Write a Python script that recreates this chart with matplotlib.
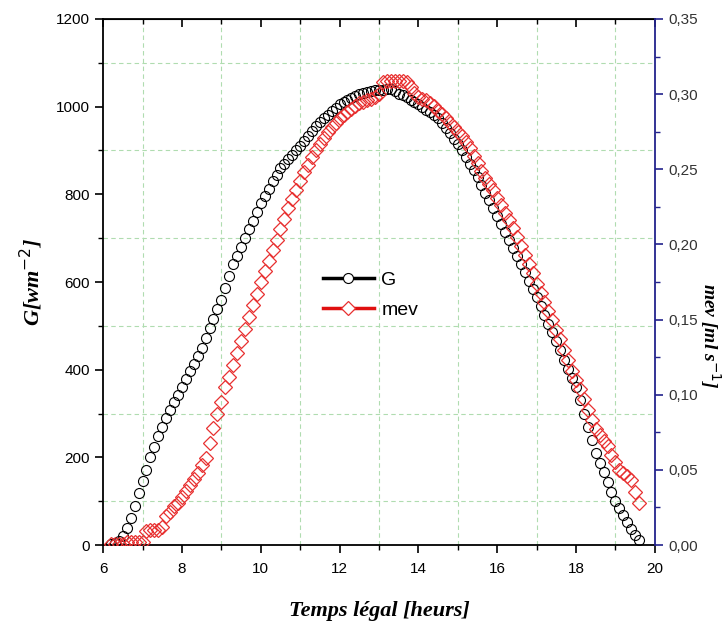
import matplotlib
matplotlib.use("Agg")
import matplotlib.pyplot as plt
import numpy as np
from matplotlib.lines import Line2D
from matplotlib.ticker import MultipleLocator, FuncFormatter

# sampling times (hours)
hours = np.round(np.arange(6.2, 19.61, 0.1), 2)

# global irradiance G [W m-2]
G = [2, 5, 10, 20, 38, 62, 90, 118, 145, 172,
     200, 224, 248, 270, 290, 308, 326, 343, 360, 378,
     396, 414, 432, 450, 472, 494, 516, 538, 560, 587,
     614, 640, 660, 680, 700, 720, 740, 760, 780, 797,
     813, 830, 845, 860, 870, 880, 890, 900, 910, 922,
     933, 944, 955, 965, 973, 981, 989, 997, 1005, 1010,
     1015, 1020, 1025, 1030, 1032, 1034, 1036, 1037, 1038, 1039,
     1040, 1040, 1036, 1030, 1026, 1021, 1016, 1010, 1005, 999,
     993, 987, 981, 975, 963, 951, 939, 927, 915, 900,
     885, 870, 855, 840, 822, 804, 786, 768, 750, 732,
     714, 696, 678, 660, 641, 622, 603, 584, 565, 545,
     525, 505, 485, 465, 444, 423, 402, 381, 360, 330,
     300, 270, 240, 210, 188, 166, 144, 122, 100, 84,
     68, 52, 36, 22, 12]

# evaporated mass flow mev [ml s-1]
mev = [0.001, 0.001, 0.001, 0.001, 0.002, 0.002, 0.002, 0.002, 0.002, 0.009,
       0.010, 0.010, 0.010, 0.012, 0.019, 0.022, 0.026, 0.028, 0.032, 0.036,
       0.040, 0.044, 0.048, 0.053, 0.058, 0.068, 0.078, 0.087, 0.095, 0.105,
       0.112, 0.120, 0.128, 0.136, 0.144, 0.152, 0.160, 0.167, 0.175, 0.182,
       0.189, 0.196, 0.203, 0.210, 0.217, 0.224, 0.230, 0.236, 0.242, 0.248,
       0.253, 0.258, 0.263, 0.267, 0.271, 0.275, 0.278, 0.281, 0.284, 0.286,
       0.288, 0.290, 0.292, 0.294, 0.295, 0.296, 0.297, 0.298, 0.300, 0.308,
       0.309, 0.309, 0.309, 0.309, 0.309, 0.308, 0.305, 0.301, 0.298, 0.297,
       0.296, 0.294, 0.292, 0.289, 0.287, 0.284, 0.281, 0.278, 0.275, 0.272,
       0.268, 0.264, 0.259, 0.254, 0.249, 0.244, 0.240, 0.236, 0.231, 0.226,
       0.221, 0.216, 0.211, 0.205, 0.199, 0.193, 0.187, 0.181, 0.174, 0.168,
       0.162, 0.156, 0.150, 0.143, 0.137, 0.130, 0.123, 0.116, 0.110, 0.104,
       0.097, 0.090, 0.083, 0.077, 0.073, 0.069, 0.066, 0.060, 0.055, 0.050,
       0.048, 0.046, 0.043, 0.035, 0.028]

plt.rcParams['font.family'] = 'Liberation Sans'

fig = plt.figure(figsize=(7.26, 6.33), dpi=100)
ax = fig.add_axes([0.142, 0.139, 0.760, 0.831])
ax2 = ax.twinx()

grid_col = '#b0dcb0'
red = '#e83030'
ax.plot(hours, G, linestyle='none', marker='o', markersize=7.2,
        markerfacecolor='none', markeredgecolor='black', markeredgewidth=0.8, zorder=3)
ax2.plot(hours, mev, linestyle='none', marker='D', markersize=7.2,
         markerfacecolor='none', markeredgecolor=red, markeredgewidth=0.9, zorder=3)

ax.set_xlim(6, 20)
ax.set_ylim(0, 1200)
ax2.set_ylim(0, 0.35)

ax.xaxis.set_major_locator(MultipleLocator(2))
ax.xaxis.set_minor_locator(MultipleLocator(1))
ax.yaxis.set_major_locator(MultipleLocator(200))
ax.yaxis.set_minor_locator(MultipleLocator(100))
ax2.yaxis.set_major_locator(MultipleLocator(0.05))
ax2.yaxis.set_minor_locator(MultipleLocator(0.025))
ax2.yaxis.set_major_formatter(FuncFormatter(lambda v, _: f"{v:.2f}".replace('.', ',')))

# grid on minor ticks
for xv in [7, 9, 11, 13, 15, 17, 19]:
    ax.axvline(xv, color=grid_col, lw=0.8, ls=(0, (4, 3)), zorder=0)
for yv in [100, 300, 500, 700, 900, 1100]:
    ax.axhline(yv, color=grid_col, lw=0.8, ls=(0, (4, 3)), zorder=0)

ax.tick_params(axis='both', which='major', direction='out', length=6, width=1.2, labelsize=11)
ax.tick_params(axis='both', which='minor', direction='out', length=3.5, width=1.0)
ax.tick_params(axis='x', pad=6)

top = ax.secondary_xaxis('top')
top.xaxis.set_major_locator(MultipleLocator(2))
top.xaxis.set_minor_locator(MultipleLocator(1))
top.tick_params(which='major', direction='in', length=6, width=1.2, labeltop=False)
top.tick_params(which='minor', direction='in', length=3.5, width=1.0)

blue = '#23238c'
ax2.spines['right'].set_color(blue)
ax2.spines['right'].set_linewidth(1.3)
ax2.tick_params(axis='y', which='major', colors=blue, direction='out', length=6, width=1.2,
                labelsize=11, labelcolor='#333333')
ax2.tick_params(axis='y', which='minor', colors=blue, direction='out', length=3.5, width=1.0)

for s in ['left', 'bottom', 'top']:
    ax.spines[s].set_linewidth(1.3)
ax.spines['right'].set_visible(False)
for s in ['left', 'bottom', 'top']:
    ax2.spines[s].set_visible(False)

lab_font = dict(family='Liberation Serif', weight='bold', style='italic', size=16)
ax.set_xlabel('Temps légal [heurs]', labelpad=18, **lab_font)
ax.set_ylabel('G[wm$^{-2}$]', labelpad=8, **lab_font)
fig.text(0.979, 0.47, 'mev [ml s$^{-1}$]', rotation=-90, ha='center', va='center',
         family='Liberation Serif', weight='bold', style='italic', size=14)

handles = [
    Line2D([], [], color='black', lw=2.5, marker='o', markersize=7.2,
           markerfacecolor='white', markeredgecolor='black', markeredgewidth=0.8),
    Line2D([], [], color='#e01010', lw=2.5, marker='D', markersize=7,
           markerfacecolor='white', markeredgecolor=red, markeredgewidth=0.9),
]
ax.legend(handles, ['G', 'mev'], loc='center', bbox_to_anchor=(0.485, 0.475), frameon=False,
          fontsize=14, handlelength=2.6, handletextpad=0.4, labelspacing=0.65)

fig.savefig('out.png', dpi=100)
